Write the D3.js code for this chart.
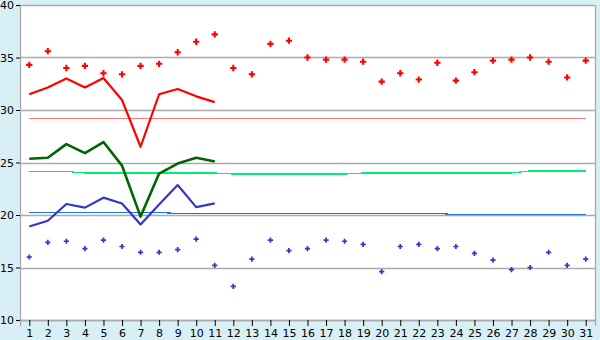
<!DOCTYPE html>
<html><head><meta charset="utf-8">
<script src="https://cdn.jsdelivr.net/npm/d3@7"></script>
<style>
html,body{margin:0;padding:0;background:#d9eff6;}
svg{display:block;}
text{font-family:"DejaVu Sans",Verdana,sans-serif;font-size:11px;fill:#000;}
</style></head>
<body>
<svg id="c" width="600" height="340"></svg>
<script>
const days = [1,2,3,4,5,6,7,8,9,10,11,12,13,14,15,16,17,18,19,20,21,22,23,24,25,26,27,28,29,30,31];
const yTicks = [10,15,20,25,30,35,40];

const maxPoints = [34.3,35.6,34.0,34.2,33.5,33.4,34.2,34.4,35.5,36.5,37.2,34.0,33.4,36.3,36.6,35.0,34.8,34.8,34.6,32.7,33.5,32.9,34.5,32.8,33.6,34.7,34.8,35.0,34.6,33.1,34.7];
const minPoints = [16.0,17.4,17.5,16.8,17.6,17.0,16.45,16.45,16.7,17.7,15.2,13.2,15.8,17.6,16.6,16.8,17.6,17.5,17.2,14.6,17.0,17.2,16.8,17.0,16.35,15.7,14.8,15.0,16.45,15.2,15.8];

const maxLine = [31.5,32.15,33.0,32.15,33.05,30.95,26.5,31.5,32.0,31.3,30.75];
const meanLine = [25.35,25.45,26.75,25.9,26.95,24.7,19.85,23.95,24.9,25.45,25.1];
const minLine = [18.9,19.45,21.05,20.7,21.65,21.1,19.1,21.0,22.85,20.75,21.1];

const maxNormal = [29.2,29.2,29.2,29.2,29.2,29.2,29.2,29.2,29.2,29.2,29.2,29.2,29.2,29.2,29.2,29.2,29.2,29.2,29.2,29.2,29.2,29.2,29.2,29.2,29.2,29.2,29.2,29.2,29.2,29.2,29.2];
const meanNormal = [24.15,24.15,24.15,24.0,24.0,24.0,24.0,24.0,24.0,24.0,24.0,23.9,23.9,23.9,23.9,23.9,23.9,23.9,24.0,24.0,24.0,24.0,24.0,24.0,24.0,24.0,24.0,24.2,24.2,24.2,24.2];
const minNormal = [20.24,20.24,20.24,20.24,20.24,20.24,20.24,20.24,20.15,20.15,20.15,20.15,20.15,20.15,20.15,20.15,20.15,20.15,20.15,20.15,20.15,20.15,20.15,20.04,20.04,20.04,20.04,20.04,20.04,20.04,20.04];

const svg = d3.select("#c");
const L = 20, R = 595, T = 5, B = 320;
const x = d3.scalePoint().domain(days).range([L, R]).padding(0.5);
const y = d3.scaleLinear().domain([10, 40]).range([B, T]);

svg.append("rect").attr("x", L).attr("y", T).attr("width", R - L).attr("height", B - T).attr("fill", "#fff");

// grid
svg.append("g").selectAll("line").data(yTicks).join("line")
  .attr("x1", L).attr("x2", R)
  .attr("y1", d => Math.round(y(d)) + 0.5).attr("y2", d => Math.round(y(d)) + 0.5)
  .attr("stroke", "#aaaaaa").attr("stroke-width", 1.3);
svg.append("line").attr("x1", R + 0.5).attr("x2", R + 0.5).attr("y1", T).attr("y2", B)
  .attr("stroke", "#aaaaaa").attr("stroke-width", 1.3);

// axes
const yAxis = svg.append("g").attr("transform", `translate(${L},0)`)
  .call(d3.axisLeft(y).tickValues(yTicks).tickSize(4).tickPadding(2));
const xAxis = svg.append("g").attr("transform", `translate(0,${B})`)
  .call(d3.axisBottom(x).tickSize(6).tickPadding(3));
[yAxis, xAxis].forEach(a => {
  a.selectAll("path.domain").attr("stroke", "#aaaaaa").attr("stroke-width", 1.3);
  a.selectAll(".tick line").attr("stroke", "#000").attr("stroke-width", 1);
  a.selectAll("text").attr("font-family", "DejaVu Sans, Verdana, sans-serif").attr("font-size", 11).attr("fill", "#000");
});
yAxis.selectAll(".tick text").attr("font-size", 12);

function line(vals) {
  return d3.line().x((d, i) => x(days[i])).y(d => y(d))(vals);
}

// normals
[[maxNormal, "#ff7b7b"], [meanNormal, "#00ee76"], [minNormal, "#1c74e0"]].forEach(([v, c]) => {
  svg.append("path").attr("d", line(v)).attr("fill", "none").attr("stroke", c)
    .attr("stroke-width", 1.2).attr("shape-rendering", "crispEdges");
});

// observed lines
[[maxLine, "#ff0000", 2.2], [meanLine, "#006400", 2.6], [minLine, "#3535cc", 2.2]].forEach(([v, c, w]) => {
  svg.append("path").attr("d", line(v)).attr("fill", "none").attr("stroke", c)
    .attr("stroke-width", w).attr("stroke-linejoin", "round");
});

// point markers
svg.append("g").selectAll("path").data(maxPoints).join("path")
  .attr("transform", (d, i) => `translate(${x(days[i])},${y(d)})`)
  .attr("d", d3.symbol(d3.symbolCross, 22)).attr("fill", "#ff0000");
svg.append("g").selectAll("path").data(minPoints).join("path")
  .attr("transform", (d, i) => `translate(${x(days[i])},${y(d)})`)
  .attr("d", d3.symbol(d3.symbolCross, 15)).attr("fill", "#3535cc");
</script>
</body></html>
